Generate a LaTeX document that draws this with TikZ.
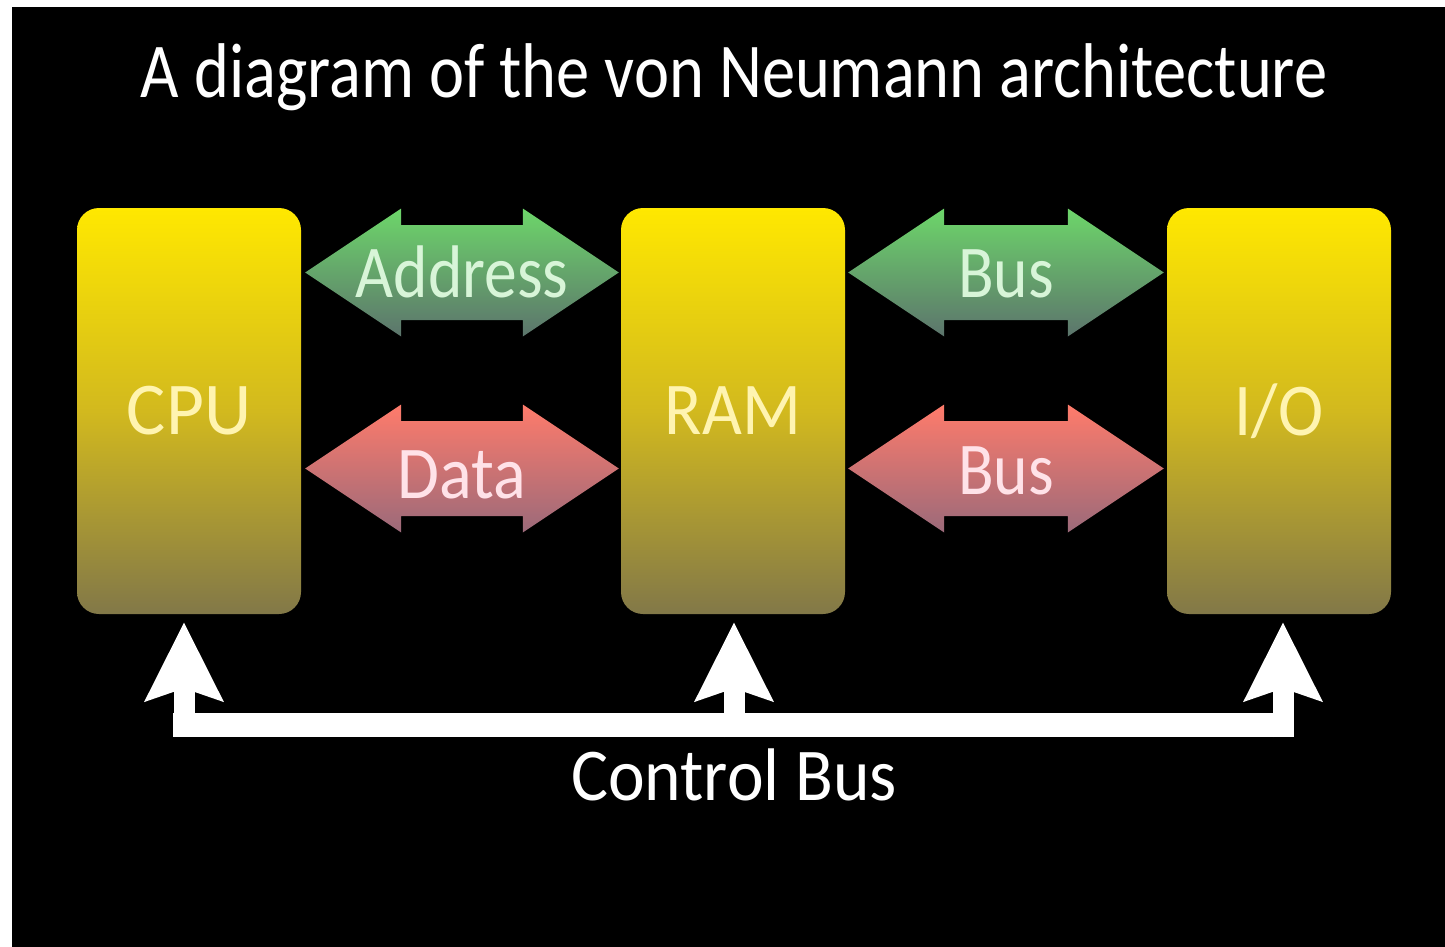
\documentclass[tikz,border=0pt]{standalone}
\usepackage{fontspec}
\setmainfont{Carlito}[FakeStretch=0.88]
\usetikzlibrary{arrows.meta,calc}
\definecolor{boxtop}{RGB}{255,232,0}
\definecolor{boxmid}{RGB}{210,185,30}
\definecolor{boxbot}{RGB}{130,120,72}
\definecolor{boxtext}{RGB}{255,244,176}
\definecolor{grtop}{RGB}{109,214,106}
\definecolor{grbot}{RGB}{92,116,108}
\definecolor{grtext}{RGB}{216,245,216}
\definecolor{rdtop}{RGB}{255,123,107}
\definecolor{rdbot}{RGB}{155,106,122}
\definecolor{rdtext}{RGB}{255,226,232}
\tikzset{
  unitbox/.style={rounded corners=22pt, minimum width=224pt, minimum height=406pt,
    top color=boxtop, bottom color=boxbot, middle color=boxmid,
    text=boxtext, font=\fontsize{74.5}{80}\selectfont, inner sep=0pt},
  greenbus/.style={top color=grtop, bottom color=grbot},
  redbus/.style={top color=rdtop, bottom color=rdbot},
  bustext/.style={font=\fontsize{74.5}{80}\selectfont, inner sep=0pt},
  ctrlarrow/.style={white, line width=21pt, -{Stealth[length=78pt, width=76pt, inset=12pt]}, shorten >=8pt},
  plaintext/.style={white, font=\fontsize{74.5}{80}\selectfont, inner sep=0pt}
}
% double arrow between two named points: #1 style, #2 left tip, #3 right tip
\newcommand{\twowayarrow}[3]{%
  \path[#1] let \p1=(#2), \p2=(#3) in
    (\x1,\y1) -- (\x1+96pt,\y1-64pt) -- (\x1+96pt,\y1-47.5pt) -- (\x2-96pt,\y1-47.5pt)
    -- (\x2-96pt,\y1-64pt) -- (\x2,\y1) -- (\x2-96pt,\y1+64pt) -- (\x2-96pt,\y1+47.5pt)
    -- (\x1+96pt,\y1+47.5pt) -- (\x1+96pt,\y1+64pt) -- cycle;}
\begin{document}
\begin{tikzpicture}[x=1pt, y=-1pt]
\useasboundingbox (0,0) rectangle (1445,947);
\fill[white] (0,0) rectangle (1445,947);
\fill[black] (12,7) rectangle (1445,947);

\node[plaintext, font=\fontsize{77.6}{84}\selectfont, anchor=base] (title) at (734,98) {\scalebox{0.973}[1]{A diagram of the von Neumann architecture}};

\node[unitbox] (cpu) at (189,411) {\scalebox{1.12}[1]{CPU}};
\node[unitbox] (ram) at (733,411) {\scalebox{1.05}[1]{RAM}};
\node[unitbox] (io) at (1279,411) {\scalebox{1.04}[1]{I/O}};

% address / data bus between CPU and RAM
\coordinate (aL) at ($(cpu.east |- 0,272.5)+(4,0)$);
\coordinate (aR) at ($(ram.west |- 0,272.5)+(-2,0)$);
\coordinate (dL) at ($(cpu.east |- 0,468.5)+(4,0)$);
\coordinate (dR) at ($(ram.west |- 0,468.5)+(-2,0)$);
\twowayarrow{greenbus}{aL}{aR}
\twowayarrow{redbus}{dL}{dR}
\node[bustext, text=grtext, anchor=base] (addrt) at ($(aL)!0.5!(aR)+(0,24.5)$) {Address};
\node[bustext, text=rdtext, anchor=base] (datat) at ($(dL)!0.5!(dR)+(0,29.5)$) {\scalebox{1.04}[1]{Data}};

% address / data bus between RAM and I/O
\coordinate (bL) at ($(ram.east |- 0,272.5)+(3,0)$);
\coordinate (bR) at ($(io.west |- 0,272.5)+(-3,0)$);
\coordinate (eL) at ($(ram.east |- 0,468.5)+(3,0)$);
\coordinate (eR) at ($(io.west |- 0,468.5)+(-3,0)$);
\twowayarrow{greenbus}{bL}{bR}
\twowayarrow{redbus}{eL}{eR}
\node[bustext, text=grtext, anchor=base] (abust) at ($(bL)!0.5!(bR)+(0,24.5)$) {Bus};
\node[bustext, text=rdtext, anchor=base] (dbust) at ($(eL)!0.5!(eR)+(0,25.5)$) {Bus};

% control bus
\coordinate (cb1) at (184,737);
\coordinate (cb2) at (734,737);
\coordinate (cb3) at (1283,737);
\fill[white] (173,713) rectangle (1294,737);
\draw[ctrlarrow] (cb1) -- (cb1 |- cpu.south);
\draw[ctrlarrow] (cb2) -- (cb2 |- ram.south);
\draw[ctrlarrow] (cb3) -- (cb3 |- io.south);

\node[plaintext, anchor=base] (ctrl) at (734,800) {\scalebox{1.06}[1]{Control Bus}};
\end{tikzpicture}
\end{document}
